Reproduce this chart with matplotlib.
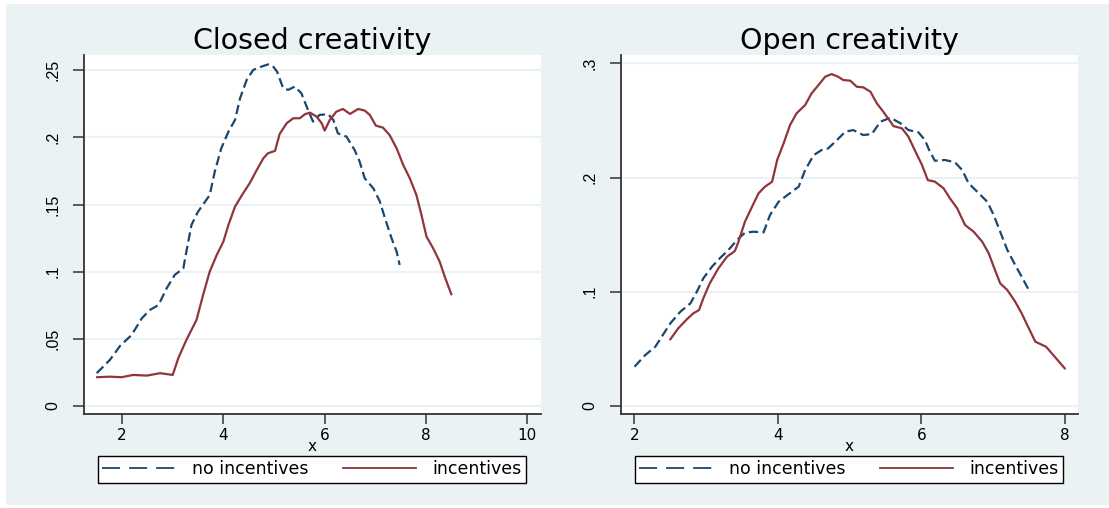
import matplotlib as mpl
import matplotlib.pyplot as plt
from matplotlib.lines import Line2D
from matplotlib.patches import Rectangle

mpl.use('Agg')

# Closed creativity
closed_x_noinc = [1.50, 1.76, 1.96, 2.19, 2.39, 2.55, 2.72, 2.88, 3.04, 3.21, 3.27, 3.37, 3.50,
                  3.64, 3.73, 3.83, 3.96, 4.10, 4.23, 4.33, 4.46, 4.59, 4.75, 4.88, 4.97, 5.06,
                  5.18, 5.28, 5.41, 5.54, 5.67, 5.77, 5.90, 6.07, 6.17, 6.26, 6.43, 6.59, 6.69,
                  6.79, 6.96, 7.09, 7.19, 7.32, 7.42, 7.48]
closed_y_noinc = [.0244, .0343, .0447, .0529, .0653, .0715, .0752, .0876, .0976, .1025, .115,
                  .1348, .1447, .1522, .157, .1745, .192, .2043, .213, .2292, .2428, .2503,
                  .2527, .2544, .2535, .2490, .2367, .2354, .2379, .2329, .2205, .2118, .2168,
                  .2173, .213, .2031, .2006, .1907, .182, .1696, .1621, .1522, .1398, .1249,
                  .115, .105]
closed_x_inc = [1.51, 1.76, 1.99, 2.22, 2.49, 2.75, 3.00, 3.11, 3.27, 3.47, 3.60, 3.73, 3.87,
                4.00, 4.10, 4.23, 4.39, 4.52, 4.66, 4.79, 4.88, 5.02, 5.11, 5.25, 5.38, 5.51,
                5.61, 5.71, 5.84, 5.94, 6.00, 6.10, 6.23, 6.36, 6.50, 6.66, 6.79, 6.89, 7.01,
                7.15, 7.28, 7.42, 7.55, 7.68, 7.81, 7.91, 8.01, 8.14, 8.27, 8.37, 8.50]
closed_y_inc = [.0214, .0218, .0214, .0231, .0226, .0244, .0231, .0355, .0492, .0641, .0827,
                .100, .1125, .1224, .1348, .1485, .1584, .1659, .1758, .1845, .1882, .190,
                .2025, .2106, .2143, .2143, .2173, .2185, .2155, .2106, .2051, .213, .2192,
                .2212, .2175, .2212, .220, .2168, .2088, .2073, .2019, .1919, .1795, .1696,
                .1572, .1423, .1261, .1175, .1075, .0963, .0832]

# Open creativity
open_x_noinc = [2.00, 2.15, 2.29, 2.38, 2.50, 2.64, 2.78, 2.87, 2.96, 3.08, 3.19, 3.31, 3.43,
                3.54, 3.66, 3.80, 3.89, 4.01, 4.12, 4.29, 4.38, 4.50, 4.61, 4.70, 4.80, 4.94,
                5.05, 5.19, 5.31, 5.43, 5.57, 5.71, 5.82, 5.96, 6.05, 6.12, 6.19, 6.33, 6.47,
                6.57, 6.66, 6.78, 6.92, 7.01, 7.10, 7.20, 7.31, 7.40, 7.50]
open_y_noinc = [.0344, .0446, .0519, .0607, .0724, .0826, .0899, .1001, .1118, .1219, .1293,
                .1366, .1453, .1517, .1526, .152, .1672, .1788, .1841, .192, .2066, .2197,
                .2241, .2255, .2314, .2401, .2416, .2372, .2381, .2489, .2524, .2475, .2416,
                .2396, .2329, .2226, .2147, .2154, .2133, .2066, .195, .1876, .1788, .1672,
                .1526, .1366, .1234, .1132, .1015]
open_x_inc = [2.50, 2.61, 2.73, 2.82, 2.90, 2.96, 3.05, 3.17, 3.29, 3.40, 3.45, 3.54, 3.64,
              3.73, 3.82, 3.92, 3.99, 4.08, 4.17, 4.26, 4.38, 4.47, 4.57, 4.66, 4.75, 4.84,
              4.91, 5.01, 5.10, 5.19, 5.29, 5.38, 5.47, 5.57, 5.61, 5.73, 5.82, 5.92, 6.01,
              6.09, 6.19, 6.31, 6.40, 6.50, 6.61, 6.73, 6.85, 6.94, 7.01, 7.10, 7.20, 7.31,
              7.40, 7.50, 7.59, 7.74, 7.86, 8.00]
open_y_inc = [.0584, .068, .0759, .0811, .084, .0943, .1074, .1205, .1307, .1357, .1438, .1613,
              .1745, .1862, .192, .1964, .2154, .230, .246, .2562, .2635, .2737, .2813, .2883,
              .2906, .2883, .2854, .2848, .2795, .279, .2752, .265, .2576, .2489, .2451, .2431,
              .2358, .2226, .211, .1978, .1964, .1906, .1818, .1731, .1585, .1526, .1438,
              .1337, .122, .1074, .1015, .0913, .0811, .068, .0563, .0519, .0432, .033]

closed_xticks = [2, 4, 6, 8, 10]
closed_yticks = [0, .05, .1, .15, .2, .25]
closed_ylabels = ['0', '.05', '.1', '.15', '.2', '.25']
open_xticks = [2, 4, 6, 8]
open_yticks = [0, .1, .2, .3]
open_ylabels = ['0', '.1', '.2', '.3']

BG = '#EAF2F3'
NAVY = '#1A476F'
MAROON = '#90353B'
W, H = 1109, 508

plt.rcParams['font.family'] = ['DejaVu Sans']

fig = plt.figure(figsize=(W / 100, H / 100), dpi=100)
fig.patch.set_facecolor('white')
fig.patches.append(Rectangle((6 / W, 3 / H), 1 - 6 / W, 1 - 7 / H, transform=fig.transFigure,
                             facecolor=BG, edgecolor='none', zorder=-10))


def panel(rect, title, xs, ys, xi, yi, xlim, ylim, xticks, yticks, ylabels, leg_box):
    ax = fig.add_axes(rect)
    ax.set_facecolor('white')
    ax.plot(xs, ys, color=NAVY, lw=1.6, dashes=(4.2, 2.0), solid_capstyle='butt')
    ax.plot(xi, yi, color=MAROON, lw=1.6)
    ax.set_xlim(*xlim)
    ax.set_ylim(*ylim)
    ax.set_xticks(xticks)
    ax.set_yticks(yticks)
    ax.set_yticklabels(ylabels, rotation=90, va='center', fontsize=11.5,
                       family=['Liberation Sans', 'DejaVu Sans'])
    ax.tick_params(axis='x', labelsize=11, length=7, width=1.1, color='#333333', pad=3)
    ax.tick_params(axis='y', length=8, width=1.1, color='#333333', pad=9)
    for s in ['top', 'right']:
        ax.spines[s].set_visible(False)
    for s in ['left', 'bottom']:
        ax.spines[s].set_color('#333333')
        ax.spines[s].set_linewidth(1.3)
    ax.grid(axis='y', color=BG, lw=1.5)
    ax.set_axisbelow(True)
    ax.set_title(title, fontsize=20.5, pad=3)
    ax.set_xlabel('x', fontsize=11, labelpad=-3)
    handles = [Line2D([], [], color=NAVY, lw=1.3, dashes=(10, 5)),
               Line2D([], [], color=MAROON, lw=1.3)]
    leg = ax.legend(handles, ['no incentives', 'incentives'], ncol=2, loc='center',
                    bbox_to_anchor=leg_box, bbox_transform=fig.transFigure,
                    fontsize=12.5, handlelength=4.2, handletextpad=0.95, columnspacing=2.0,
                    borderpad=0.25, frameon=True, fancybox=False, edgecolor='black',
                    framealpha=1)
    leg.get_frame().set_linewidth(1.0)
    return ax


panel([83.9 / W, 1 - 414 / H, (541 - 83.9) / W, 359 / H], 'Closed creativity',
      closed_x_noinc, closed_y_noinc, closed_x_inc, closed_y_inc,
      (1.247, 10.27), (-0.006, 0.2614), closed_xticks, closed_yticks, closed_ylabels,
      (312 / W, 1 - 469.5 / H))
panel([621.3 / W, 1 - 414 / H, (1077.6 - 621.3) / W, 359 / H], 'Open creativity',
      open_x_noinc, open_y_noinc, open_x_inc, open_y_inc,
      (1.816, 8.18), (-0.007, 0.3073), open_xticks, open_yticks, open_ylabels,
      (849 / W, 1 - 469.5 / H))

fig.savefig('out.png', dpi=100)
